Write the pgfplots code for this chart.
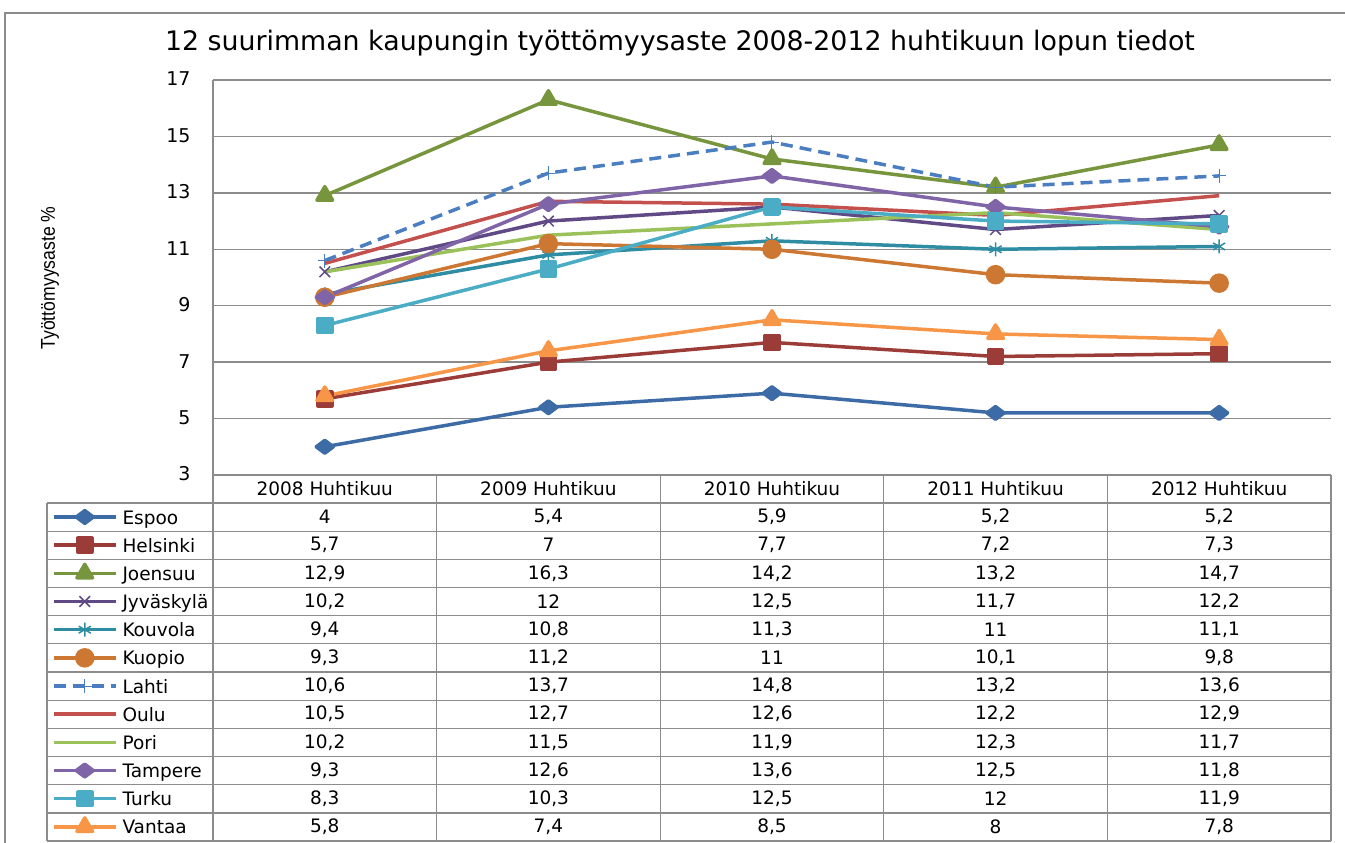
\documentclass[border=0pt]{standalone}
\usepackage{pgfplots}
\pgfplotsset{compat=1.18}
\usepackage{pgfplotstable}
\usepackage{fontspec}
\setmainfont{DejaVu Sans}
\newfontfamily\narrowfont{Liberation Sans}

\definecolor{cEspoo}{HTML}{3D6BA6}
\definecolor{cHelsinki}{HTML}{9C3C39}
\definecolor{cJoensuu}{HTML}{77953D}
\definecolor{cJyvaskyla}{HTML}{5F4A85}
\definecolor{cKouvola}{HTML}{2E8CA3}
\definecolor{cKuopio}{HTML}{CC7833}
\definecolor{cLahti}{HTML}{4A7EC0}
\definecolor{cOulu}{HTML}{C3504C}
\definecolor{cPori}{HTML}{9BC15A}
\definecolor{cTampere}{HTML}{8064A8}
\definecolor{cTurku}{HTML}{4BACC6}
\definecolor{cVantaa}{HTML}{F79646}
\definecolor{gridgray}{HTML}{8C8C8C}

\pgfplotstableread{
x Espoo Helsinki Joensuu Jyvaskyla Kouvola Kuopio Lahti Oulu Pori Tampere Turku Vantaa
0 4   5.7 12.9 10.2 9.4  9.3  10.6 10.5 10.2 9.3  8.3  5.8
1 5.4 7   16.3 12   10.8 11.2 13.7 12.7 11.5 12.6 10.3 7.4
2 5.9 7.7 14.2 12.5 11.3 11   14.8 12.6 11.9 13.6 12.5 8.5
3 5.2 7.2 13.2 11.7 11   10.1 13.2 12.2 12.3 12.5 12   8
4 5.2 7.3 14.7 12.2 11.1 9.8  13.6 12.9 11.7 11.8 11.9 7.8
}\data

\begin{document}
\begin{tikzpicture}[x=1pt,y=1pt]
\path[use as bounding box] (0,0) rectangle (1345,843);
\draw[gridgray, line width=1.3pt] (5,-10) -- (5,830) -- (1360,830);
\node[font=\fontsize{26.8}{26.8}\selectfont] at (680,800) {12 suurimman kaupungin työttömyysaste 2008-2012 huhtikuun lopun tiedot};
\node[rotate=90, font=\narrowfont\fontsize{20}{20}\selectfont] at (50,565) {\scalebox{0.88}[1]{Työttömyysaste \%}};

\begin{axis}[
  at={(213pt,368pt)}, anchor=south west,
  scale only axis, width=1118pt, height=395pt,
  xmin=-0.5, xmax=4.5, ymin=3, ymax=17,
  xtick=\empty, ytick={3,5,...,17},
  axis line style={draw=none},
  ymajorgrids, major grid style={gridgray, line width=1.3pt},
  major tick length=0pt,
  yticklabel style={font=\fontsize{19}{19}\selectfont, xshift=-19pt, yshift=1pt},
  /pgf/number format/assume math mode=true,
  line join=round,
  legend image code/.code={\draw[mark repeat=2,mark phase=2,#1] plot coordinates {(0pt,7pt) (31pt,7pt) (62pt,7pt)};},
  legend cell align=left,
  legend style={at={(axis description cs:-0.1440,-0.07089)}, anchor=north west,
    draw=none, fill=none, inner sep=0pt, outer sep=0pt, row sep=0pt, column sep=5pt,
    font=\fontsize{18.5}{18.5}\selectfont,
    nodes={inner sep=0pt, text height=21pt, text depth=7.17pt, anchor=base west}},
  every axis plot/.append style={line width=3.5pt},
]
\addplot[cEspoo, mark=diamond*, mark size=8.5pt, mark options={solid, rotate=90}] table[x=x,y=Espoo]{\data};
\addlegendentry{Espoo}
\addplot[cHelsinki, mark=square*, mark size=7pt, mark options={solid}] table[x=x,y=Helsinki]{\data};
\addlegendentry{Helsinki}
\addplot[cJoensuu, mark=triangle*, mark size=9pt, mark options={solid}] table[x=x,y=Joensuu]{\data};
\addlegendentry{Joensuu}
\addplot[cJyvaskyla, mark=x, mark size=7.5pt, mark options={solid, line width=1.5pt}] table[x=x,y=Jyvaskyla]{\data};
\addlegendentry{Jyväskylä}
\addplot[cKouvola, mark=asterisk, mark size=7pt, mark options={solid, line width=1.5pt}] table[x=x,y=Kouvola]{\data};
\addlegendentry{Kouvola}
\addplot[cKuopio, mark=*, mark size=8pt, mark options={solid}] table[x=x,y=Kuopio]{\data};
\addlegendentry{Kuopio}
\addplot[cLahti, dash pattern=on 12pt off 7pt, mark=+, mark size=7pt, mark options={solid, line width=1pt}] table[x=x,y=Lahti]{\data};
\addlegendentry{Lahti}
\addplot[cOulu, mark=none] table[x=x,y=Oulu]{\data};
\addlegendentry{Oulu}
\addplot[cPori, mark=none] table[x=x,y=Pori]{\data};
\addlegendentry{Pori}
\addplot[cTampere, mark=diamond*, mark size=8.5pt, mark options={solid, rotate=90}] table[x=x,y=Tampere]{\data};
\addlegendentry{Tampere}
\addplot[cTurku, mark=square*, mark size=7pt, mark options={solid}] table[x=x,y=Turku]{\data};
\addlegendentry{Turku}
\addplot[cVantaa, mark=triangle*, mark size=9pt, mark options={solid}] table[x=x,y=Vantaa]{\data};
\addlegendentry{Vantaa}
\end{axis}

% table grid
\draw[gridgray, line width=1.3pt] (213,368) -- (1331,368);
\foreach \r in {0,...,12} {\draw[gridgray, line width=1.3pt] (47,{340-28.17*\r}) -- (1331,{340-28.17*\r});}
\draw[gridgray, line width=1.3pt] (47,340) -- (47,2);
\draw[gridgray, line width=1.3pt] (213,763) -- (213,2);
\foreach \k in {1,...,5} {\draw[gridgray, line width=1.3pt] ({213+223.6*\k},368) -- ({213+223.6*\k},2);}
% header
\foreach \c/\yr in {0/2008,1/2009,2/2010,3/2011,4/2012} {
  \node[font=\fontsize{18.5}{18.5}\selectfont] at ({324.8+223.6*\c},354) {\yr\ Huhtikuu};
}
% values
\foreach \r/\nm in {0/Espoo,1/Helsinki,2/Joensuu,3/Jyvaskyla,4/Kouvola,5/Kuopio,6/Lahti,7/Oulu,8/Pori,9/Tampere,10/Turku,11/Vantaa} {
  \foreach \c in {0,...,4} {
    \pgfplotstablegetelem{\c}{\nm}\of\data
    \node[font=\fontsize{18.5}{18.5}\selectfont] at ({324.8+223.6*\c},{326-28.17*\r}) {\pgfmathprintnumber[use comma,assume math mode=true]{\pgfplotsretval}};
  }
}
\end{tikzpicture}
\end{document}
